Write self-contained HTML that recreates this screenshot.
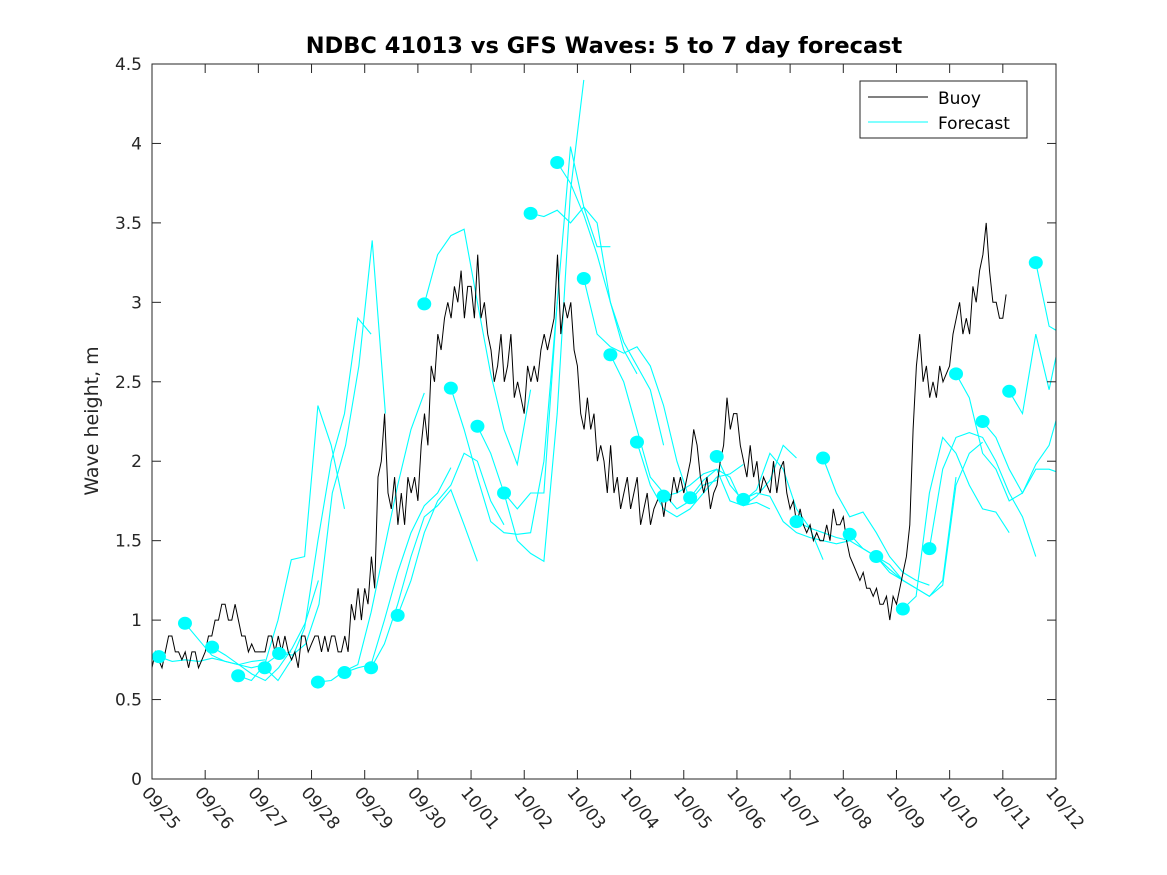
<!DOCTYPE html>
<html><head><meta charset="utf-8"><style>
body{margin:0;background:#fff}
svg{display:block;font-family:"DejaVu Sans","Liberation Sans",sans-serif}
</style></head><body>
<svg id="chart" width="1167" height="875">
<rect width="1167" height="875" fill="#fff"/>
<text x="604" y="53" text-anchor="middle" font-size="22.5" font-weight="bold" fill="#000">NDBC 41013 vs GFS Waves: 5 to 7 day forecast</text>
<text transform="translate(98,421) rotate(-90)" text-anchor="middle" font-size="19" fill="#262626">Wave height, m</text>
<defs><clipPath id="pc"><rect x="152" y="64" width="904" height="715"/></clipPath></defs>
<g id="fc" clip-path="url(#pc)"></g>
<g id="buoy" clip-path="url(#pc)"></g>
<g id="dots" clip-path="url(#pc)"></g>
<rect x="152" y="64" width="904" height="715" fill="none" stroke="#262626" stroke-width="1"/>
<g id="axes"></g>
<g>
<rect x="860" y="81" width="167" height="57" fill="#fff" stroke="#262626" stroke-width="1"/>
<line x1="868" y1="97" x2="928" y2="97" stroke="#000"/>
<text x="938" y="104" font-size="17" fill="#000">Buoy</text>
<line x1="868" y1="122" x2="928" y2="122" stroke="#00ffff"/>
<text x="938" y="129" font-size="17" fill="#000">Forecast</text>
</g>
</svg>
<script>
const xLabels=["09/25","09/26","09/27","09/28","09/29","09/30","10/01","10/02","10/03","10/04","10/05","10/06","10/07","10/08","10/09","10/10","10/11","10/12"];
const yTicks=[0,0.5,1,1.5,2,2.5,3,3.5,4,4.5];
const yTickLabels=["0","0.5","1","1.5","2","2.5","3","3.5","4","4.5"];
const buoyStart=0;
const buoyStep=0.0625;
const buoyValues=[0.7,0.8,0.75,0.7,0.8,0.9,0.9,0.8,0.8,0.75,0.8,0.7,0.8,0.8,0.7,0.75,
0.8,0.9,0.9,1.0,1.0,1.1,1.1,1.0,1.0,1.1,1.0,0.9,0.9,0.8,0.85,0.8,
0.8,0.8,0.8,0.9,0.9,0.8,0.9,0.8,0.9,0.8,0.75,0.8,0.7,0.9,0.9,0.8,
0.85,0.9,0.9,0.8,0.9,0.8,0.9,0.9,0.8,0.8,0.9,0.8,1.1,1.0,1.2,1.0,
1.2,1.1,1.4,1.2,1.9,2.0,2.3,1.8,1.7,1.9,1.6,1.8,1.6,1.9,1.8,1.9,
1.75,2.1,2.3,2.1,2.6,2.5,2.8,2.7,2.9,3.0,2.9,3.1,3.0,3.2,2.9,3.1,
3.1,2.9,3.3,2.9,3.0,2.8,2.7,2.5,2.6,2.8,2.5,2.6,2.8,2.4,2.5,2.4,
2.3,2.6,2.5,2.6,2.5,2.7,2.8,2.7,2.8,2.9,3.3,2.8,3.0,2.9,3.0,2.7,
2.6,2.3,2.2,2.4,2.2,2.3,2.0,2.1,2.0,1.8,2.1,1.8,1.9,1.7,1.8,1.9,
1.7,1.8,1.9,1.6,1.7,1.8,1.6,1.7,1.75,1.8,1.65,1.8,1.75,1.9,1.8,1.9,
1.8,1.9,2.0,2.2,2.1,1.9,1.8,1.9,1.7,1.8,1.85,2.0,2.1,2.4,2.2,2.3,
2.3,2.1,2.0,1.9,2.1,1.9,2.0,1.8,1.9,1.85,1.8,2.0,1.8,1.95,2.0,1.8,
1.7,1.75,1.6,1.7,1.6,1.55,1.6,1.5,1.55,1.5,1.5,1.6,1.5,1.7,1.6,1.6,
1.65,1.5,1.4,1.35,1.3,1.25,1.3,1.2,1.2,1.15,1.2,1.1,1.1,1.15,1.0,1.15,
1.1,1.2,1.3,1.4,1.6,2.2,2.6,2.8,2.5,2.6,2.4,2.5,2.4,2.6,2.5,2.55,
2.6,2.8,2.9,3.0,2.8,2.9,2.8,3.1,3.0,3.2,3.3,3.5,3.2,3.0,3.0,2.9,
2.9,3.05];
const fcStartDays=[0.13,0.62,1.13,1.62,2.12,2.39,3.12,3.62,4.12,4.62,5.12,5.62,6.12,6.62,7.12,7.62,8.12,8.62,9.12,9.62,10.12,10.62,11.12,12.12,12.62,13.12,13.62,14.12,14.62,15.12,15.62,16.12,16.62];
const fcStep=0.25;
const fcValues=[
[0.77,0.74,0.75,0.74,0.76,0.74,0.72,0.74,0.75],
[0.98,0.88,0.78,0.74,0.72,0.70,0.72,0.78,0.80],
[0.83,0.78,0.72,0.66,0.62,0.70,0.82,0.98,1.25],
[0.65,0.62,0.72,1.00,1.38,1.40,2.35,2.10,1.70],
[0.70,0.62,0.75,0.95,1.50,2.00,2.30,2.90,2.80],
[0.79,0.78,0.85,1.10,1.80,2.10,2.60,3.39,2.30],
[0.61,0.62,0.68,0.72,1.05,1.45,1.85,2.20,2.43],
[0.67,0.70,0.72,1.00,1.30,1.55,1.72,1.80,1.96],
[0.70,0.85,1.10,1.40,1.65,1.72,1.82,1.60,1.37],
[1.03,1.25,1.55,1.75,1.85,2.05,2.00,1.75,1.60],
[2.99,3.30,3.42,3.46,3.00,2.55,2.20,1.98,2.45],
[2.46,2.20,1.90,1.62,1.55,1.54,1.55,2.00,3.00],
[2.22,2.05,1.80,1.50,1.42,1.37,2.30,3.70,4.40],
[1.80,1.70,1.80,1.80,3.00,3.98,3.60,3.35,3.35],
[3.56,3.54,3.58,3.50,3.60,3.50,3.00,2.70,2.55],
[3.88,3.75,3.55,3.30,3.00,2.75,2.60,2.45,2.10],
[3.15,2.80,2.72,2.68,2.72,2.60,2.35,2.00,1.75],
[2.67,2.50,2.20,1.90,1.80,1.70,1.75,1.85,1.88],
[2.12,1.85,1.70,1.65,1.70,1.80,1.90,1.92,1.98],
[1.78,1.80,1.85,1.92,1.95,1.75,1.72,1.74,1.70],
[1.77,1.88,1.95,1.90,1.72,1.78,1.88,2.10,2.02],
[2.03,1.85,1.75,1.82,2.05,1.95,1.70,1.58,1.38],
[1.76,1.80,1.78,1.62,1.55,1.52,1.50,1.48,1.50],
[1.62,1.58,1.55,1.52,1.50,1.45,1.40,1.30,1.25],
[2.02,1.80,1.65,1.68,1.55,1.40,1.30,1.25,1.22],
[1.54,1.45,1.40,1.35,1.25,1.20,1.15,1.25,1.90],
[1.40,1.32,1.25,1.20,1.15,1.22,1.85,2.05,2.12],
[1.07,1.15,1.80,2.15,2.05,1.85,1.70,1.68,1.55],
[1.45,1.95,2.15,2.18,2.15,2.00,1.80,1.65,1.40],
[2.55,2.40,2.05,1.95,1.75,1.80,1.95,1.95,1.92],
[2.25,2.15,1.95,1.80,1.98,2.10,2.40,2.50,2.60],
[2.44,2.30,2.80,2.45,2.85,2.55,2.60,2.70,2.80],
[3.25,2.85,2.80,2.65,2.60,2.60,2.60,2.60,2.60]];
const NS="http://www.w3.org/2000/svg";
const X0=152,X1=1056,Y0=779,Y1=64;
function xs(d){return X0+d*(X1-X0)/17;}
function ys(v){return Y0-v*(Y0-Y1)/4.5;}
function mk(t,a,parent){const e=document.createElementNS(NS,t);for(const k in a)e.setAttribute(k,a[k]);parent.appendChild(e);return e;}
const axes=document.getElementById('axes');
xLabels.forEach((l,i)=>{
 const x=xs(i);
 const t1=mk('line',{x1:x,y1:Y0,x2:x,y2:Y0-9,stroke:'#262626'},axes);
 
 
 mk('line',{x1:x,y1:Y1,x2:x,y2:Y1+9,stroke:'#262626'},axes);
 const tx=mk('text',{x:0,y:0,'font-size':17,fill:'#262626',transform:`translate(${x-11},${Y0+14}) rotate(50)`},axes);
 tx.textContent=l;
 
 
});
yTicks.forEach((v,i)=>{
 const y=ys(v);
 mk('line',{x1:X0,y1:y,x2:X0+9,y2:y,stroke:'#262626'},axes);
 mk('line',{x1:X1,y1:y,x2:X1-9,y2:y,stroke:'#262626'},axes);
 const tx=mk('text',{x:X0-10,y:y+6,'font-size':17,fill:'#262626','text-anchor':'end'},axes);
 tx.textContent=yTickLabels[i];
 
 
});
const fc=document.getElementById('fc'),dots=document.getElementById('dots');
fcStartDays.forEach((d0,i)=>{
 const pts=fcValues[i].map((v,j)=>xs(d0+j*fcStep).toFixed(1)+','+ys(v).toFixed(1)).join(' ');
 const p=mk('polyline',{points:pts,fill:'none',stroke:'#00ffff','stroke-width':1.1},fc);
 
 
 const c=mk('ellipse',{cx:xs(d0),cy:ys(fcValues[i][0]),rx:7,ry:6.5,fill:'#00ffff'},dots);
 
 
});
const bp=buoyValues.map((v,j)=>xs(buoyStart+j*buoyStep).toFixed(1)+','+ys(v).toFixed(1)).join(' ');
const bl=mk('polyline',{points:bp,fill:'none',stroke:'#000','stroke-width':1},document.getElementById('buoy'));


</script>
</body></html>
